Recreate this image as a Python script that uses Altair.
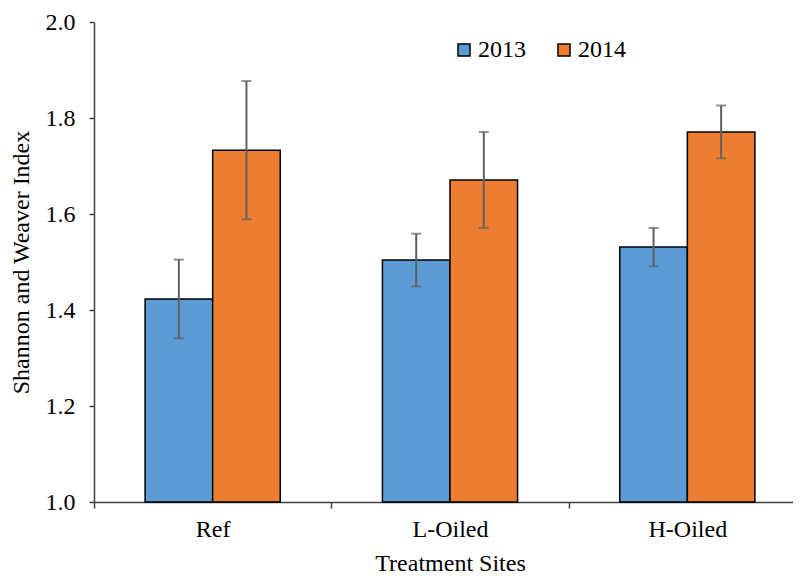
import altair as alt
import pandas as pd

sites = ["Ref", "L-Oiled", "H-Oiled"]
years = ["2013", "2014"]
mean_2013 = [1.423, 1.504, 1.531]
mean_2014 = [1.733, 1.671, 1.771]
err_2013 = [0.082, 0.055, 0.040]
err_2014 = [0.144, 0.100, 0.055]
y_ticks = [1.0, 1.2, 1.4, 1.6, 1.8, 2.0]
colors = ["#5B9BD5", "#ED7D31"]

rows = []
for i, s in enumerate(sites):
    for yr, m, e in (("2013", mean_2013[i], err_2013[i]), ("2014", mean_2014[i], err_2014[i])):
        rows.append({"site": s, "year": yr, "mean": m, "lo": m - e, "hi": m + e})
df = pd.DataFrame(rows)

FONT = "Liberation Serif"
AXC = "#404040"

x_scale = alt.Scale(range=[0, 712], paddingInner=0, paddingOuter=0)
x_axis = alt.Axis(
    title="Treatment Sites", labelAngle=0, tickBand="extent", tickSize=6,
    labelPadding=9, titlePadding=10, domainColor=AXC, tickColor=AXC,
    domainWidth=1.5, tickWidth=1.5, labelFont=FONT, titleFont=FONT,
)
y_scale = alt.Scale(domain=[1.0, 2.0], nice=False, zero=False)
y_axis = alt.Axis(
    title="Shannon and Weaver Index", values=y_ticks, format=".1f", grid=False,
    tickSize=5, labelPadding=14, titlePadding=12, domainColor=AXC, tickColor=AXC,
    domainWidth=1.5, tickWidth=1.5, labelFont=FONT, titleFont=FONT,
)

def X():
    return alt.X("site:N", sort=sites, scale=x_scale, axis=x_axis)

def XO():
    return alt.XOffset("year:N", sort=years, scale=alt.Scale(paddingInner=0, paddingOuter=0.756))

def Y(field):
    return alt.Y(field, type="quantitative", scale=y_scale, axis=y_axis)

base = alt.Chart(df)

bars = base.mark_bar(stroke="black", strokeWidth=1.5).encode(
    x=X(), xOffset=XO(), y=Y("mean"), y2=alt.datum(1.0),
    color=alt.Color(
        "year:N", sort=years,
        scale=alt.Scale(domain=years, range=colors),
        legend=alt.Legend(
            title=None, orient="none", legendX=358, legendY=16, direction="horizontal",
            symbolType="square", symbolSize=144, symbolStrokeColor="black",
            symbolStrokeWidth=1.5, symbolOpacity=1, labelFont=FONT, labelFontSize=24,
            labelColor="black", columnPadding=26, labelOffset=2, padding=0,
        ),
    ),
)

rules = base.mark_rule(color="#606060", strokeWidth=2).encode(
    x=X(), xOffset=XO(), y=Y("lo"), y2="hi:Q"
)
cap_lo = base.mark_tick(color="#606060", size=10, thickness=2, orient="horizontal").encode(
    x=X(), xOffset=XO(), y=Y("lo")
)
cap_hi = base.mark_tick(color="#606060", size=10, thickness=2, orient="horizontal").encode(
    x=X(), xOffset=XO(), y=Y("hi")
)

chart = (
    alt.layer(bars, rules, cap_lo, cap_hi)
    .properties(
        width=699, height=480,
        autosize=alt.AutoSizeParams(type="none"),
        padding={"left": 86, "top": 14, "right": 0, "bottom": 75},
        background="white",
    )
    .configure_view(stroke=None)
    .configure_axis(
        labelFont=FONT, labelFontSize=24, labelColor="black",
        titleFont=FONT, titleFontSize=24, titleColor="black", titleFontWeight="normal",
    )
)

chart.save("out.html", embed_options={"renderer": "svg", "actions": False})
